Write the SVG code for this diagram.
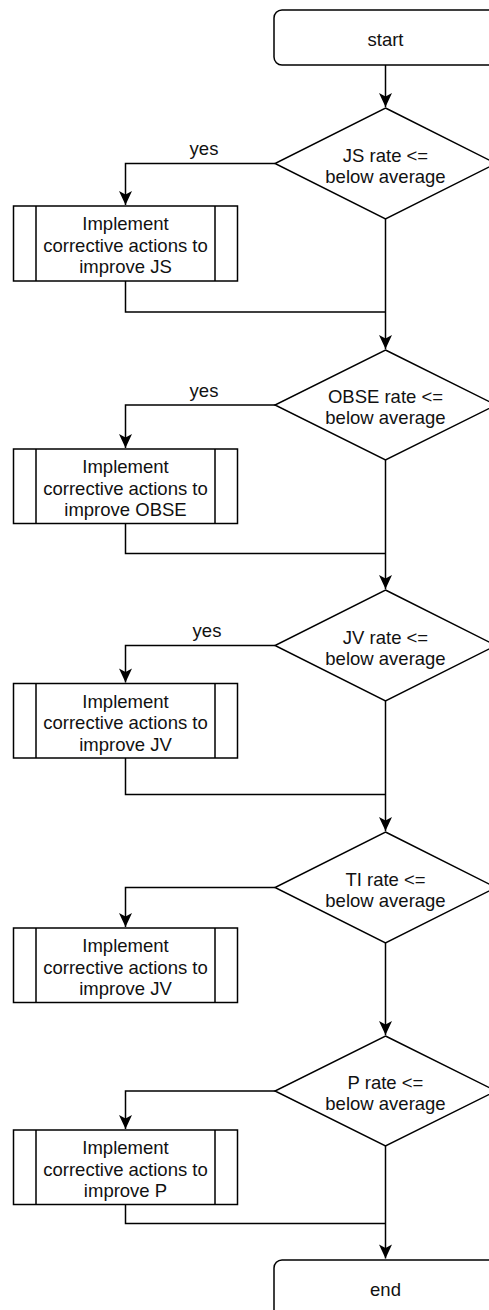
<svg xmlns="http://www.w3.org/2000/svg" width="489" height="1310" viewBox="0 0 489 1310">
<style>
.s{fill:#fff;stroke:#000;stroke-width:1.5}
.c{fill:none;stroke:#000;stroke-width:1.5}
text{font-family:"Liberation Sans",Arial,Helvetica,sans-serif;font-size:18.5px;fill:#111;text-anchor:middle}
</style>
<defs>
<marker id="a" markerUnits="userSpaceOnUse" markerWidth="16" markerHeight="16" viewBox="-15 -8 16 16" refX="0" refY="0" orient="auto">
<path d="M0,0 L-14,-6.5 L-10.5,0 L-14,6.5 Z" fill="#000"/>
</marker>
</defs>
<g id="connectors">
<path class="c" d="M385.5,65 V107" marker-end="url(#a)"/>
<path class="c" d="M275,163.5 H125.5 V205" marker-end="url(#a)"/>
<path class="c" d="M385.5,219 V349" marker-end="url(#a)"/>
<path class="c" d="M125.5,281 V312 H385.5"/>
<path class="c" d="M275,405 H125.5 V448" marker-end="url(#a)"/>
<path class="c" d="M385.5,460 V589" marker-end="url(#a)"/>
<path class="c" d="M125.5,523.5 V553.5 H385.5"/>
<path class="c" d="M275,645.5 H125.5 V682.5" marker-end="url(#a)"/>
<path class="c" d="M385.5,701 V831" marker-end="url(#a)"/>
<path class="c" d="M125.5,758 V794.5 H385.5"/>
<path class="c" d="M275,887.5 H125.5 V927" marker-end="url(#a)"/>
<path class="c" d="M385.5,943 V1035" marker-end="url(#a)"/>
<path class="c" d="M275,1091 H125.5 V1129" marker-end="url(#a)"/>
<path class="c" d="M385.5,1146 V1258.5" marker-end="url(#a)"/>
<path class="c" d="M125.5,1204.5 V1223.5 H385.5"/>
<text x="204" y="155">yes</text>
<text x="204" y="397">yes</text>
<text x="207" y="637">yes</text>
</g>
<g id="start">
<rect class="s" x="274" y="10" width="223" height="55" rx="8"/>
<text x="385.5" y="46">start</text>
</g>
<g id="d1">
<path class="s" d="M385.5,108 L496,163.5 L385.5,219 L275,163.5 Z"/>
<text x="385.5" y="161.5">JS rate &lt;=</text>
<text x="385.5" y="182.5">below average</text>
</g>
<g id="p1">
<rect class="s" x="13.5" y="206" width="224" height="75"/>
<path class="c" d="M36,206 V281 M215,206 V281"/>
<text x="125.5" y="230">Implement</text>
<text x="125.5" y="251.5">corrective actions to</text>
<text x="125.5" y="273">improve JS</text>
</g>
<g id="d2">
<path class="s" d="M385.5,350 L496,405 L385.5,460 L275,405 Z"/>
<text x="385.5" y="403">OBSE rate &lt;=</text>
<text x="385.5" y="424">below average</text>
</g>
<g id="p2">
<rect class="s" x="13.5" y="449" width="224" height="74.5"/>
<path class="c" d="M36,449 V523.5 M215,449 V523.5"/>
<text x="125.5" y="473">Implement</text>
<text x="125.5" y="494.5">corrective actions to</text>
<text x="125.5" y="516">improve OBSE</text>
</g>
<g id="d3">
<path class="s" d="M385.5,590 L496,645.5 L385.5,701 L275,645.5 Z"/>
<text x="385.5" y="643.5">JV rate &lt;=</text>
<text x="385.5" y="664.5">below average</text>
</g>
<g id="p3">
<rect class="s" x="13.5" y="683.5" width="224" height="74.5"/>
<path class="c" d="M36,683.5 V758 M215,683.5 V758"/>
<text x="125.5" y="707.5">Implement</text>
<text x="125.5" y="729">corrective actions to</text>
<text x="125.5" y="750.5">improve JV</text>
</g>
<g id="d4">
<path class="s" d="M385.5,832 L496,887.5 L385.5,943 L275,887.5 Z"/>
<text x="385.5" y="885.5">TI rate &lt;=</text>
<text x="385.5" y="906.5">below average</text>
</g>
<g id="p4">
<rect class="s" x="13.5" y="928" width="224" height="74.5"/>
<path class="c" d="M36,928 V1002.5 M215,928 V1002.5"/>
<text x="125.5" y="952">Implement</text>
<text x="125.5" y="973.5">corrective actions to</text>
<text x="125.5" y="995">improve JV</text>
</g>
<g id="d5">
<path class="s" d="M385.5,1036 L496,1091 L385.5,1146 L275,1091 Z"/>
<text x="385.5" y="1089">P rate &lt;=</text>
<text x="385.5" y="1110">below average</text>
</g>
<g id="p5">
<rect class="s" x="13.5" y="1130" width="224" height="74.5"/>
<path class="c" d="M36,1130 V1204.5 M215,1130 V1204.5"/>
<text x="125.5" y="1154">Implement</text>
<text x="125.5" y="1175.5">corrective actions to</text>
<text x="125.5" y="1197">improve P</text>
</g>
<g id="end">
<rect class="s" x="274" y="1260" width="223" height="60" rx="8"/>
<text x="385.5" y="1296">end</text>
</g>
</svg>
